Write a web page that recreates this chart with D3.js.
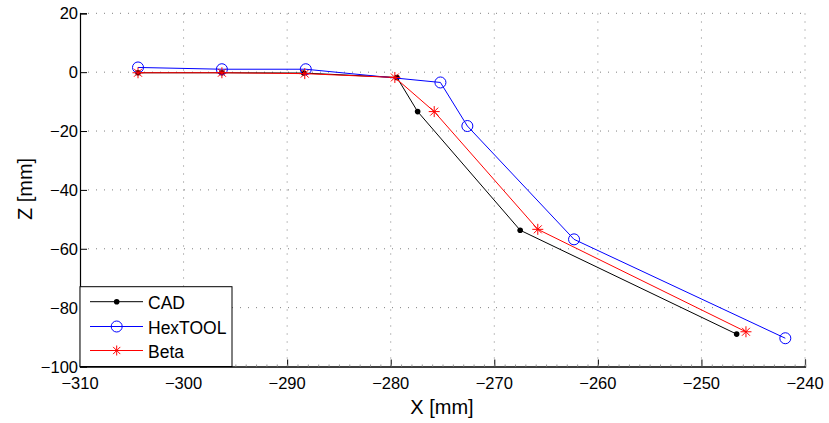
<!DOCTYPE html>
<html>
<head>
<meta charset="utf-8">
<script src="https://cdn.jsdelivr.net/npm/d3@7"></script>
<style>
body { margin: 0; background: #fff; }
text { font-family: "Liberation Sans", Arial, sans-serif; fill: #000; }
</style>
</head>
<body>
<script>
//series values
var cadX = [-304.4, -296.3, -288.4, -279.4, -277.4, -267.5, -246.6],
	cadZ = [-0.2, -0.2, -0.3, -1.8, -13.4, -53.7, -89.0];
var hexX = [-304.4, -296.3, -288.2, -275.2, -272.6, -262.3, -241.9],
	hexZ = [1.6, 1.0, 1.0, -3.5, -18.3, -56.8, -90.4];
var betaX = [-304.4, -296.3, -288.3, -279.6, -275.8, -265.8, -245.7],
	betaZ = [-0.2, -0.2, -0.5, -1.8, -13.4, -53.4, -88.2];

//tick values
var xTicks = [-310, -300, -290, -280, -270, -260, -250, -240],
	yTicks = [-100, -80, -60, -40, -20, 0, 20];
var seriesNames = ["CAD", "HexTOOL", "Beta"];

var width = 829, height = 423;
var svg = d3.select("body").append("svg")
	.attr("width", width)
	.attr("height", height);

var x = d3.scaleLinear().domain([-310, -240]).range([80, 805]);
var y = d3.scaleLinear().domain([-100, 20]).range([366.5, 13.3]);

function fmt(v){ return String(v).replace("-", "\u2212"); }

//dotted grid
svg.selectAll(".gx").data(xTicks.slice(1)).enter().append("line")
	.attr("x1", d => x(d)).attr("x2", d => x(d))
	.attr("y1", y(-100)).attr("y2", y(20))
	.attr("stroke", "#808080").attr("stroke-width", 1)
	.attr("stroke-dasharray", "1,7");
svg.selectAll(".gy").data(yTicks.slice(1)).enter().append("line")
	.attr("x1", x(-310)).attr("x2", x(-240))
	.attr("y1", d => y(d)).attr("y2", d => y(d))
	.attr("stroke", "#808080").attr("stroke-width", 1)
	.attr("stroke-dasharray", "1,7");

//axes (ticks inside, MATLAB style)
var xAxis = svg.append("g").attr("transform", "translate(0," + y(-100) + ")")
	.call(d3.axisTop(x).tickValues(xTicks).tickSize(7).tickFormat(""));
var xMinor = svg.append("g").attr("transform", "translate(0," + y(-100) + ")")
	.call(d3.axisTop(x).tickValues(d3.range(-310, -239, 1)).tickSize(2).tickFormat(""));
var yAxis = svg.append("g").attr("transform", "translate(" + x(-310) + ",0)")
	.call(d3.axisRight(y).tickValues(yTicks).tickSize(7).tickFormat(""));
[xAxis, xMinor, yAxis].forEach(g => {
	g.selectAll("path, line").attr("stroke", "#000");
	g.select(".domain").attr("stroke-width", 1.2);
});
xMinor.selectAll("line").attr("stroke", "#999");
xAxis.selectAll(".tick").filter(d => d === -240).select("line").attr("stroke", "#444");

//tick labels
svg.selectAll(".xl").data(xTicks).enter().append("text")
	.attr("x", d => x(d)).attr("y", 388.5)
	.attr("text-anchor", "middle").style("font-size", "16.5px")
	.text(fmt);
svg.selectAll(".yl").data(yTicks).enter().append("text")
	.attr("x", 78).attr("y", d => y(d) + 6)
	.attr("text-anchor", "end").style("font-size", "16.5px")
	.text(fmt);

//axis titles
svg.append("text").attr("x", 442).attr("y", 414)
	.attr("text-anchor", "middle").style("font-size", "20px").text("X [mm]");
svg.append("text").attr("transform", "translate(32,189) rotate(-90)")
	.attr("text-anchor", "middle").style("font-size", "20px").text("Z [mm]");

var line = d3.line().x(d => x(d[0])).y(d => y(d[1]));
function pts(xs, zs){ return xs.map((v, i) => [v, zs[i]]); }

var cad = pts(cadX, cadZ), hex = pts(hexX, hexZ), beta = pts(betaX, betaZ);

//star marker like MATLAB '*'
function star(g, cx, cy, r, color){
	var d = r * 0.72;
	g.append("path")
		.attr("d", "M" + (cx - r) + "," + cy + "h" + (2 * r) +
			"M" + cx + "," + (cy - r) + "v" + (2 * r) +
			"M" + (cx - d) + "," + (cy - d) + "l" + (2 * d) + "," + (2 * d) +
			"M" + (cx - d) + "," + (cy + d) + "l" + (2 * d) + "," + (-2 * d))
		.attr("stroke", color).attr("stroke-width", 1).attr("fill", "none");
}

var plot = svg.append("g");

plot.append("path").datum(cad).attr("d", line)
	.attr("fill", "none").attr("stroke", "#000").attr("stroke-width", 1);
plot.selectAll(".cadPt").data(cad).enter().append("circle")
	.attr("cx", d => x(d[0])).attr("cy", d => y(d[1])).attr("r", 2.8)
	.attr("fill", "#000");

plot.append("path").datum(hex).attr("d", line)
	.attr("fill", "none").attr("stroke", "#0000ff").attr("stroke-width", 1);
plot.selectAll(".hexPt").data(hex).enter().append("circle")
	.attr("cx", d => x(d[0])).attr("cy", d => y(d[1])).attr("r", 5.5)
	.attr("fill", "none").attr("stroke", "#0000ff").attr("stroke-width", 1);

plot.append("path").datum(beta).attr("d", line)
	.attr("fill", "none").attr("stroke", "#ff0000").attr("stroke-width", 1);
beta.forEach(d => star(plot, x(d[0]), y(d[1]), 5.5, "#ff0000"));

//legend
var lg = svg.append("g");
lg.append("rect").attr("x", 80).attr("y", 286.7).attr("width", 152).attr("height", 79.8)
	.attr("fill", "#fff").attr("stroke", "#000").attr("stroke-width", 1);
var legColors = ["#000", "#0000ff", "#ff0000"],
	legY = [301.7, 326.5, 350.5];
seriesNames.forEach((name, i) => {
	lg.append("line").attr("x1", 90).attr("x2", 143)
		.attr("y1", legY[i]).attr("y2", legY[i])
		.attr("stroke", legColors[i]).attr("stroke-width", 1);
	if (i === 0) lg.append("circle").attr("cx", 116.7).attr("cy", legY[i]).attr("r", 2.8).attr("fill", "#000");
	if (i === 1) lg.append("circle").attr("cx", 116.7).attr("cy", legY[i]).attr("r", 5.5)
		.attr("fill", "none").attr("stroke", "#0000ff");
	if (i === 2) star(lg, 116.7, legY[i], 5, "#ff0000");
	lg.append("text").attr("x", 148).attr("y", legY[i] + 7)
		.style("font-size", "17.5px").text(name);
});
</script>
</body>
</html>
